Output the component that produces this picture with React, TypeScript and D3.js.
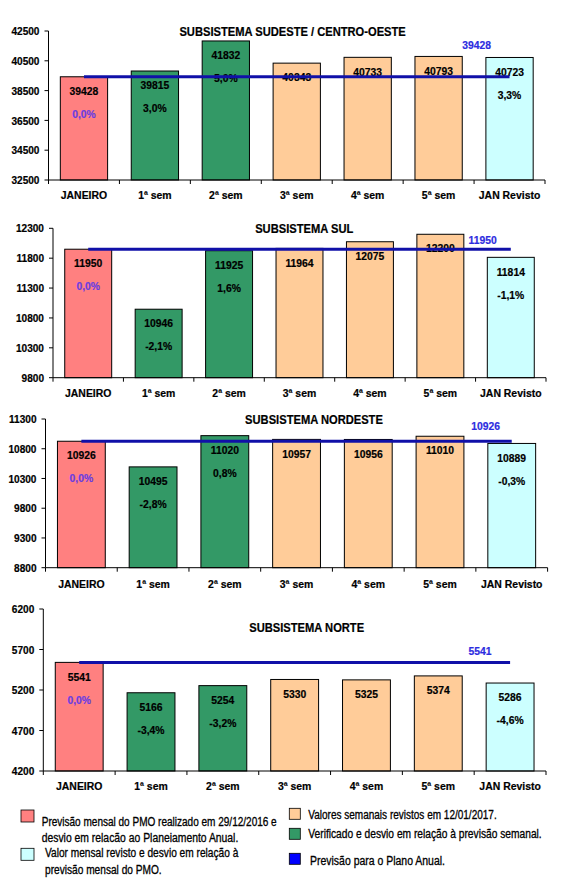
import React from "react";
import * as d3 from "d3";

const categories = ["JANEIRO", "1ª sem", "2ª sem", "3ª sem", "4ª sem", "5ª sem", "JAN Revisto"];
const barKinds = ["pmo", "verif", "verif", "sem", "sem", "sem", "rev"];

const seValues = [39428, 39815, 41832, 40343, 40733, 40793, 40723];
const sePct = ["0,0%", "3,0%", "5,0%", null, null, null, "3,3%"];
const sePlan = 39428;
const seTicks = [32500, 34500, 36500, 38500, 40500, 42500];

const sulValues = [11950, 10946, 11925, 11964, 12075, 12200, 11814];
const sulPct = ["0,0%", "-2,1%", "1,6%", null, null, null, "-1,1%"];
const sulPlan = 11950;
const sulTicks = [9800, 10300, 10800, 11300, 11800, 12300];

const neValues = [10926, 10495, 11020, 10957, 10956, 11010, 10889];
const nePct = ["0,0%", "-2,8%", "0,8%", null, null, null, "-0,3%"];
const nePlan = 10926;
const neTicks = [8800, 9300, 9800, 10300, 10800, 11300];

const nValues = [5541, 5166, 5254, 5330, 5325, 5374, 5286];
const nPct = ["0,0%", "-3,4%", "-3,2%", null, null, null, "-4,6%"];
const nPlan = 5541;
const nTicks = [4200, 4700, 5200, 5700, 6200];

const legendLeft = [
  "Previsão mensal do PMO realizado em 29/12/2016 e",
  "desvio em relacão ao Planeiamento Anual.",
  "Valor mensal revisto e desvio em relação à",
  "previsão mensal do PMO.",
];
const legendRight = [
  "Valores semanais revistos em 12/01/2017.",
  "Verificado e desvio em relação à previsão semanal.",
  "Previsão para o Plano Anual.",
];

const COLORS: Record<string, string> = {
  pmo: "#FF8080",
  verif: "#339966",
  sem: "#FFCC99",
  rev: "#CCFFFF",
};
const LINE = "#1010a8";
const PLAN_LABEL = "#2c2ce0";
const ZERO_LABEL = "#6a3de0";
const FONT = "'Liberation Sans', Arial, sans-serif";

const panels = [
  { title: "SUBSISTEMA SUDESTE / CENTRO-OESTE", values: seValues, pct: sePct, plan: sePlan, ticks: seTicks,
    x0: 48.5, x1: 545, yTop: 31, yBot: 180, titleX: 292.6, titleY: 32, planX: 476.7, planY: 45, xLabY: 195 },
  { title: "SUBSISTEMA SUL", values: sulValues, pct: sulPct, plan: sulPlan, ticks: sulTicks,
    x0: 53, x1: 546, yTop: 228.3, yBot: 377.7, titleX: 304.2, titleY: 229, planX: 482.7, planY: 239.3, xLabY: 393.3 },
  { title: "SUBSISTEMA NORDESTE", values: neValues, pct: nePct, plan: nePlan, ticks: neTicks,
    x0: 45.5, x1: 547.6, yTop: 419, yBot: 567.7, titleX: 314, titleY: 420, planX: 485.6, planY: 426, xLabY: 584 },
  { title: "SUBSISTEMA NORTE", values: nValues, pct: nPct, plan: nPlan, ticks: nTicks,
    x0: 43.3, x1: 546, yTop: 609, yBot: 771, titleX: 306.7, titleY: 628.3, planX: 480, planY: 650.7, xLabY: 786 },
];

function T({ x, y, sx = 1, sy = 1, size = 12, weight = "bold", fill = "#000", anchor = "middle", children, heavy, len }: any) {
  return (
    <text
      transform={`translate(${x},${y}) scale(${sx},${sy})`}
      fontSize={size}
      fontWeight={weight}
      fill={fill}
      stroke={heavy ? fill : undefined}
      strokeWidth={heavy ? heavy : undefined}
      textAnchor={anchor}
      dominantBaseline="central"
      fontFamily={FONT}
      textLength={len}
      lengthAdjust={len ? "spacingAndGlyphs" : undefined}
    >
      {children}
    </text>
  );
}

function Panel({ p }: any) {
  const x = d3.scaleBand<string>().domain(categories).range([p.x0, p.x1]).paddingInner(1 / 3).paddingOuter(1 / 6);
  const ticks: number[] = p.ticks;
  const y = d3.scaleLinear().domain([ticks[0], ticks[ticks.length - 1]]).range([p.yBot, p.yTop]);
  const band = d3.scaleBand<string>().domain(categories).range([p.x0, p.x1]);
  const bw = band.bandwidth();
  const lineGen = d3.line<string>().x((c) => (band(c) as number) + bw / 2).y(() => y(p.plan));
  const boundaries = d3.range(categories.length + 1).map((i) => p.x0 + i * bw);
  return (
    <g>
      {categories.map((c, i) => (
        <rect
          key={c}
          x={x(c)}
          y={y(p.values[i])}
          width={x.bandwidth()}
          height={p.yBot - y(p.values[i])}
          fill={COLORS[barKinds[i]]}
          stroke="#000"
          strokeWidth={1}
        />
      ))}
      <line x1={p.x0} x2={p.x0} y1={p.yTop} y2={p.yBot} stroke="#000" />
      <line x1={p.x0} x2={p.x1} y1={p.yBot} y2={p.yBot} stroke="#000" />
      {ticks.map((t) => (
        <g key={t}>
          <line x1={p.x0 - 4} x2={p.x0} y1={y(t)} y2={y(t)} stroke="#000" />
          <T x={p.x0 - 9} y={y(t)} anchor="end" size={11} sx={0.92} heavy={0.2}>{t}</T>
        </g>
      ))}
      {boundaries.map((bx, i) => (
        <line key={i} x1={bx} x2={bx} y1={p.yBot} y2={p.yBot + 4} stroke="#000" />
      ))}
      {categories.map((c) => (
        <T key={c} x={(band(c) as number) + bw / 2} y={p.xLabY} size={11} sx={0.95} heavy={0.2}>{c}</T>
      ))}
      {categories.map((c, i) => {
        const cx = (band(c) as number) + bw / 2;
        const top = y(p.values[i]);
        return (
          <g key={c}>
            <T x={cx} y={top + 14} size={11.5} sx={0.9} heavy={0.2}>{p.values[i]}</T>
            {p.pct[i] && (
              <T x={cx} y={top + 37} size={11.5} sx={0.9} heavy={0.2} fill={i === 0 ? ZERO_LABEL : "#000"}>{p.pct[i]}</T>
            )}
          </g>
        );
      })}
      <path d={lineGen([categories[0], categories[categories.length - 1]]) || ""} stroke={LINE} strokeWidth={3} fill="none" />
      <T x={p.planX} y={p.planY} size={11.5} sx={0.9} fill={PLAN_LABEL} heavy={0.2}>{p.plan}</T>
      <T x={p.titleX} y={p.titleY} size={12} sx={0.93} heavy={0.2}>{p.title}</T>
    </g>
  );
}

export default function App() {
  const leftY = [821, 836.7, 852.3, 869];
  const leftX = [41.7, 41.7, 45, 45];
  const leftLen = [235, 196.6, 193.3, 116.7];
  const rightY = [814, 833.3, 860];
  const rightX = [308.3, 308.3, 310];
  const rightLen = [188.4, 233.4, 135];
  const leftSq = [{ k: "pmo", y: 810 }, { k: "rev", y: 848.3 }];
  const rightSq = [{ c: COLORS.sem, y: 808.3 }, { c: COLORS.verif, y: 828.3 }, { c: "#0000FF", y: 853.3 }];
  return (
    <svg width={572} height={892} style={{ position: "absolute", left: 0, top: 0, background: "#fff" }}>
      <rect x={0} y={0} width={572} height={892} fill="#fff" />
      {panels.map((p) => (
        <Panel key={p.title} p={p} />
      ))}
      {leftSq.map((s) => (
        <rect key={s.k} x={21} y={s.y} width={13} height={12} fill={COLORS[s.k]} stroke="#000" strokeWidth={0.8} />
      ))}
      {rightSq.map((s, i) => (
        <rect key={i} x={289.3} y={s.y} width={11} height={11} fill={s.c} stroke="#000" strokeWidth={0.8} />
      ))}
      {legendLeft.map((t, i) => (
        <T key={t} x={leftX[i]} y={leftY[i]} anchor="start" weight="normal" size={10.2} sy={1.28} heavy={0.25} len={leftLen[i]}>{t}</T>
      ))}
      {legendRight.map((t, i) => (
        <T key={t} x={rightX[i]} y={rightY[i]} anchor="start" weight="normal" size={10.2} sy={1.28} heavy={0.25} len={rightLen[i]}>{t}</T>
      ))}
    </svg>
  );
}
